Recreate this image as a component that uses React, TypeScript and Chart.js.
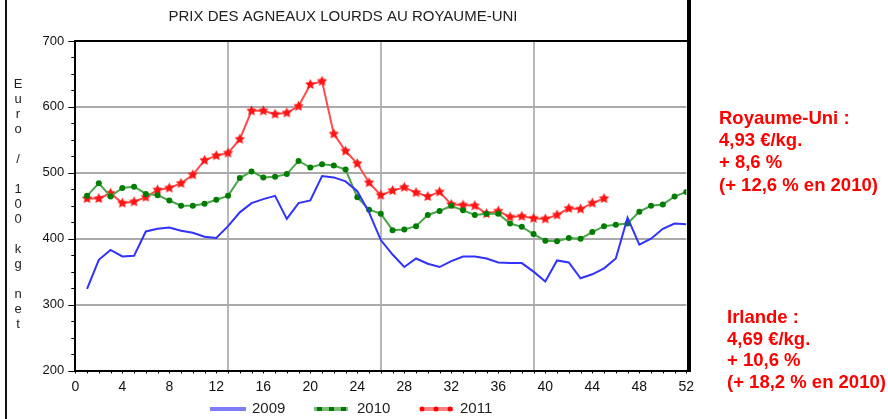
import React, { useEffect, useRef } from "react";
import { Chart, registerables } from "chart.js";

Chart.register(...registerables);

const FONT = "'Liberation Sans', Arial, sans-serif";

const TITLE = "PRIX DES AGNEAUX LOURDS AU ROYAUME-UNI";
const Y_TITLE = "Euro / 100 kg net";
const SERIES_LABELS = ["2009", "2010", "2011"];

const weeks09: number[] = Array.from({ length: 52 }, (_, i) => i + 1);
const weeks11: number[] = Array.from({ length: 45 }, (_, i) => i + 1);

const values2009 = [
  324, 368, 383, 373, 374, 411, 415, 417, 412, 409, 403, 401, 419,
  440, 454, 460, 465, 430, 454, 458, 495, 493, 487, 472, 440, 398,
  376, 357, 370, 362, 357, 366, 373, 373, 370, 364, 363, 363, 350,
  335, 367, 364, 340, 346, 355, 370, 432, 391, 400, 415, 423, 422,
];

const values2010 = [
  465, 484, 464, 477, 479, 468, 466, 458, 450, 450, 453, 459, 465,
  492, 502, 493, 494, 498, 518, 508, 513, 511, 505, 463, 444, 438,
  413, 414, 419, 436, 442, 450, 443, 436, 438, 438, 423, 418, 407,
  397, 396, 401, 400, 410, 419, 421, 423, 441, 450, 452, 464, 471,
];

const values2011 = [
  461, 461, 469, 454, 456, 463, 474, 477, 484, 497, 519, 526, 530,
  551, 594, 594, 589, 591, 601, 634, 639, 559, 533, 514, 485, 466,
  473, 478, 470, 464, 471, 452, 451, 450, 438, 442, 433, 434, 431,
  430, 436, 446, 445, 454, 461,
];

const X_GRID_WEEKS = [13, 26, 39];

const NOTE_UK = ["Royaume-Uni :", "4,93 €/kg.", "+ 8,6 %", "(+ 12,6 % en 2010)"];
const NOTE_IE = ["Irlande :", "4,69 €/kg.", "+ 10,6 %", "(+ 18,2 % en 2010)"];

function makeStar(color: string, r: number): HTMLCanvasElement {
  const size = Math.ceil(r * 2 + 2);
  const c = document.createElement("canvas");
  c.width = size;
  c.height = size;
  const g = c.getContext("2d")!;
  g.fillStyle = color;
  g.beginPath();
  const cx = size / 2;
  const cy = size / 2;
  for (let i = 0; i < 10; i++) {
    const a = -Math.PI / 2 + (i * Math.PI) / 5;
    const rr = i % 2 === 0 ? r : r * 0.5;
    g.lineTo(cx + rr * Math.cos(a), cy + rr * Math.sin(a));
  }
  g.closePath();
  g.fill();
  return c;
}

const extrasPlugin = {
  id: "extras",
  beforeDraw(chart: any) {
    const ctx = chart.ctx;
    ctx.save();
    ctx.fillStyle = "#fff";
    ctx.fillRect(0, 0, chart.width, chart.height);
    ctx.restore();
  },
  afterDraw(chart: any) {
    const ctx: CanvasRenderingContext2D = chart.ctx;
    const ca = chart.chartArea;
    const xs = chart.scales.x;
    const ys = chart.scales.y;
    ctx.save();

    // tick marks
    ctx.strokeStyle = "#000";
    ctx.lineWidth = 1;
    ctx.beginPath();
    for (let v = 200; v <= 700; v += 25) {
      const py = Math.round(ys.getPixelForValue(v)) + 0.5;
      const len = v % 100 === 0 ? 7 : 4;
      ctx.moveTo(ca.left - len, py);
      ctx.lineTo(ca.left, py);
    }
    for (let w = 0; w <= 52; w++) {
      const px = Math.round(xs.getPixelForValue(w)) + 0.5;
      ctx.moveTo(px, ca.bottom);
      ctx.lineTo(px, ca.bottom + 3);
    }
    ctx.stroke();

    // top border of plot
    ctx.fillStyle = "#000";
    ctx.fillRect(ca.left - 1, Math.round(ca.top) - 1, ca.right - ca.left + 2, 2);

    // image frame lines
    ctx.fillStyle = "#111";
    ctx.fillRect(5, 0, 2, chart.height);
    ctx.fillStyle = "#000";
    ctx.fillRect(687, 0, 4, 372);

    // title
    ctx.fillStyle = "#222";
    ctx.font = `15px ${FONT}`;
    ctx.textAlign = "center";
    ctx.textBaseline = "middle";
    ctx.fillText(TITLE, 343, 17);

    // vertical stacked y-axis title
    ctx.font = `13px ${FONT}`;
    ctx.fillStyle = "#222";
    const chars = Y_TITLE.split("");
    chars.forEach((ch, i) => {
      if (ch !== " ") ctx.fillText(ch, 18, 84 + i * 15);
    });

    // legend
    const ly = 409;
    ctx.textAlign = "left";
    ctx.font = `15px ${FONT}`;
    ctx.lineCap = "butt";
    // 2009
    ctx.strokeStyle = "rgb(125,125,255)";
    ctx.lineWidth = 4;
    ctx.beginPath();
    ctx.moveTo(210, ly);
    ctx.lineTo(246, ly);
    ctx.stroke();
    ctx.fillStyle = "#222";
    ctx.fillText(SERIES_LABELS[0], 252, ly);
    // 2010
    ctx.strokeStyle = "rgb(120,190,120)";
    ctx.beginPath();
    ctx.moveTo(314, ly);
    ctx.lineTo(348, ly);
    ctx.stroke();
    ctx.fillStyle = "rgb(0,120,0)";
    [317, 329, 341].forEach((x) => ctx.fillRect(x, ly - 2, 5, 4));
    ctx.fillStyle = "#222";
    ctx.fillText(SERIES_LABELS[1], 357, ly);
    // 2011
    ctx.strokeStyle = "rgb(255,130,130)";
    ctx.beginPath();
    ctx.moveTo(420, ly);
    ctx.lineTo(453, ly);
    ctx.stroke();
    ctx.fillStyle = "rgb(255,0,0)";
    [422, 436, 450].forEach((x) => {
      ctx.beginPath();
      ctx.arc(x, ly, 2.5, 0, Math.PI * 2);
      ctx.fill();
    });
    ctx.fillStyle = "#222";
    ctx.fillText(SERIES_LABELS[2], 460, ly);

    // annotations
    ctx.fillStyle = "#ff0000";
    ctx.font = `bold 18.5px ${FONT}`;
    NOTE_UK.forEach((t, i) => ctx.fillText(t, 719, 119 + i * 22.2));
    NOTE_IE.forEach((t, i) => ctx.fillText(t, 727, 318 + i * 21.6));

    ctx.restore();
  },
};

export default function App() {
  const ref = useRef<HTMLCanvasElement>(null);

  useEffect(() => {
    const star = makeStar("rgb(255,20,20)", 5.5);
    const chart = new Chart(ref.current!, {
      type: "line",
      data: {
        datasets: [
          {
            label: SERIES_LABELS[0],
            data: weeks09.map((w, i) => ({ x: w, y: values2009[i] })),
            borderColor: "rgb(50,50,255)",
            borderWidth: 2,
            pointRadius: 0,
            tension: 0,
          },
          {
            label: SERIES_LABELS[1],
            data: weeks09.map((w, i) => ({ x: w, y: values2010[i] })),
            borderColor: "rgb(75,165,75)",
            borderWidth: 2,
            pointRadius: 3,
            pointBackgroundColor: "rgb(0,125,0)",
            pointBorderColor: "rgb(0,125,0)",
            pointBorderWidth: 0,
            tension: 0,
          },
          {
            label: SERIES_LABELS[2],
            data: weeks11.map((w, i) => ({ x: w, y: values2011[i] })),
            borderColor: "rgb(255,75,75)",
            borderWidth: 2,
            pointStyle: star as any,
            pointRadius: 5,
            tension: 0,
          },
        ],
      },
      options: {
        animation: false,
        responsive: false,
        devicePixelRatio: 1,
        layout: { padding: { left: 0, top: 41, right: 888 - 686.3, bottom: 0 } },
        plugins: {
          legend: { display: false },
          title: { display: false },
          tooltip: { enabled: false },
        },
        scales: {
          x: {
            type: "linear",
            min: 0,
            max: 52,
            afterFit: (s: any) => {
              s.height = 48.5;
            },
            ticks: {
              stepSize: 1,
              autoSkip: false,
              maxRotation: 0,
              padding: 8,
              color: "#111",
              font: { family: FONT, size: 14 },
              callback: (v: any) => (Number(v) % 4 === 0 ? String(v) : ""),
            },
            grid: {
              color: (c: any) =>
                c.tick && X_GRID_WEEKS.includes(c.tick.value) ? "#b8b8b8" : "rgba(0,0,0,0)",
              lineWidth: 2,
              drawTicks: false,
            },
            border: { color: "#000", width: 2 },
          },
          y: {
            min: 200,
            max: 700,
            afterFit: (s: any) => {
              s.width = 75.3;
            },
            ticks: {
              stepSize: 25,
              autoSkip: false,
              padding: 11,
              color: "#111",
              font: { family: FONT, size: 13 },
              callback: (v: any) => (Number(v) % 100 === 0 ? String(v) : ""),
            },
            grid: {
              color: (c: any) => {
                const v = c.tick ? c.tick.value : 0;
                return v > 200 && v < 700 && v % 100 === 0 ? "#aaaaaa" : "rgba(0,0,0,0)";
              },
              lineWidth: 2,
              drawTicks: false,
            },
            border: { color: "#000", width: 2 },
          },
        },
      },
      plugins: [extrasPlugin],
    });
    return () => chart.destroy();
  }, []);

  return (
    <div style={{ position: "absolute", left: 0, top: 0, width: 888, height: 419 }}>
      <canvas ref={ref} width={888} height={419} style={{ display: "block", width: 888, height: 419 }} />
    </div>
  );
}
